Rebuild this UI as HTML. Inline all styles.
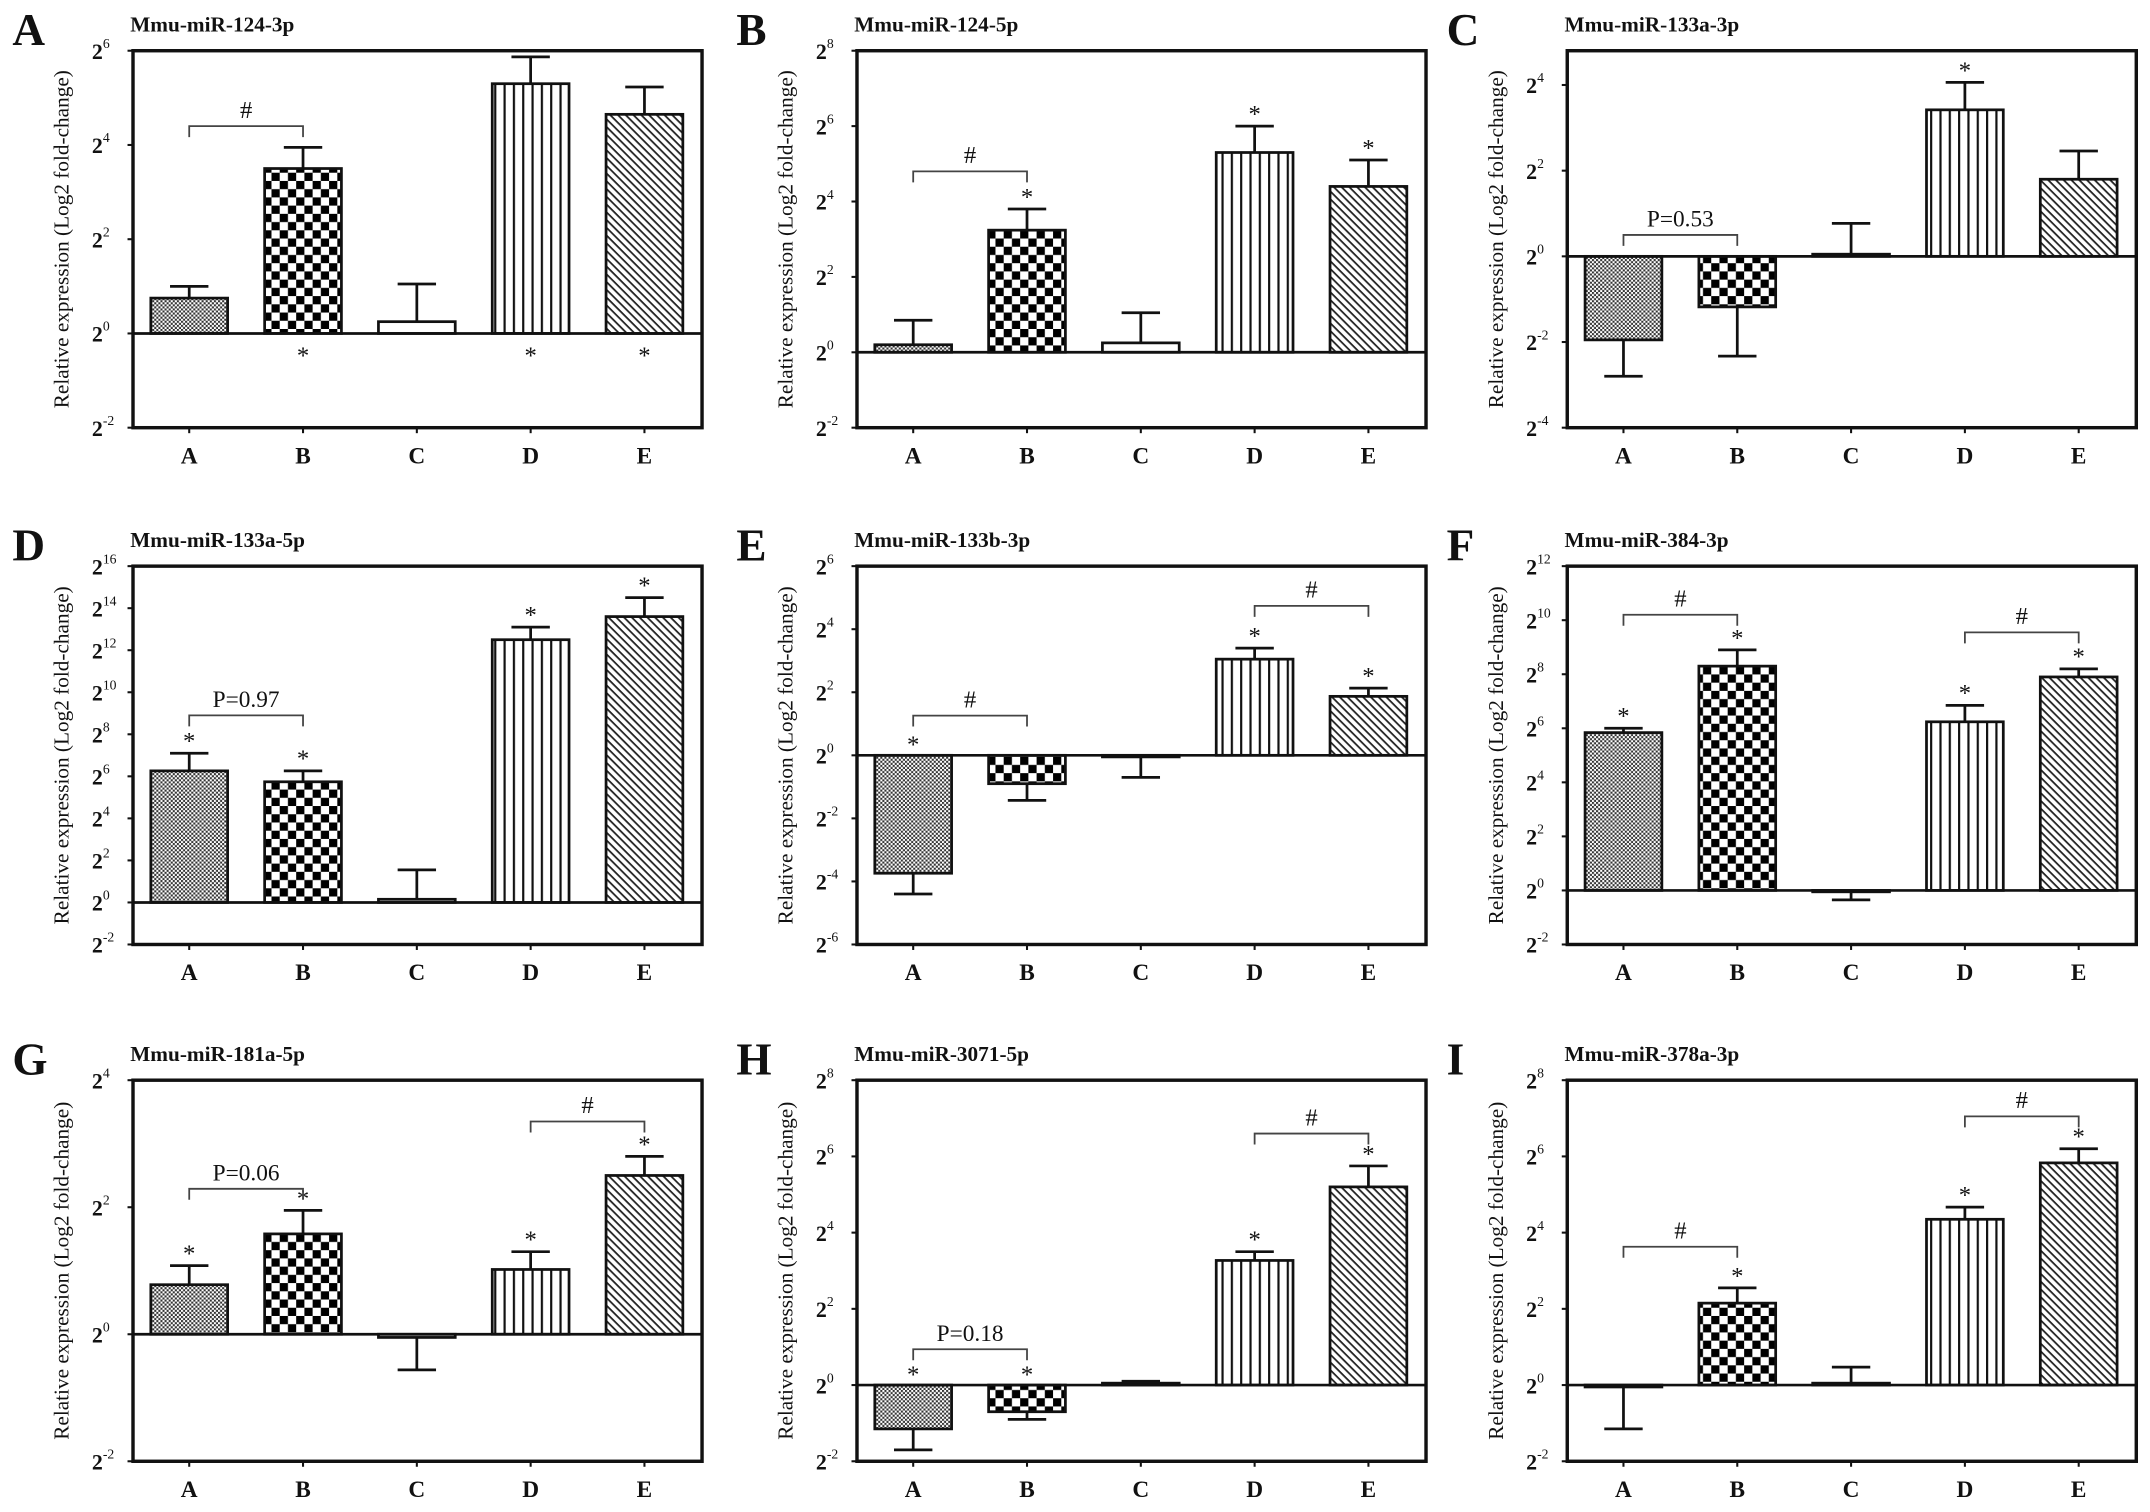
<!DOCTYPE html>
<html><head><meta charset="utf-8"><style>
html,body{margin:0;padding:0;background:#fff;}
svg{display:block;}
text{font-family:"Liberation Serif",serif;fill:#111;}
</style></head><body>
<svg id="fig" width="2150" height="1512" viewBox="0 0 1568 1103" preserveAspectRatio="none" xmlns="http://www.w3.org/2000/svg">
<defs>
<pattern id="patA" patternUnits="userSpaceOnUse" width="3" height="3"><rect width="3" height="3" fill="#fff"/><rect width="1.5" height="1.5" fill="#333"/><rect x="1.5" y="1.5" width="1.5" height="1.5" fill="#333"/></pattern>
<pattern id="patB" patternUnits="userSpaceOnUse" width="12" height="12"><rect width="12" height="12" fill="#fff"/><rect width="6" height="6" fill="#000"/><rect x="6" y="6" width="6" height="6" fill="#000"/></pattern>
<pattern id="patD" patternUnits="userSpaceOnUse" width="6.8" height="10"><rect width="6.8" height="10" fill="#fff"/><rect x="0" width="1.6" height="10" fill="#111"/></pattern>
<pattern id="patE" patternUnits="userSpaceOnUse" width="4" height="4" patternTransform="rotate(45)"><rect width="4" height="4" fill="#fff"/><rect width="4" height="1.3" fill="#222"/></pattern>
</defs>
</svg>
<script>
const groups = ["A","B","C","D","E"];
const titles = ["Mmu-miR-124-3p","Mmu-miR-124-5p","Mmu-miR-133a-3p","Mmu-miR-133a-5p","Mmu-miR-133b-3p","Mmu-miR-384-3p","Mmu-miR-181a-5p","Mmu-miR-3071-5p","Mmu-miR-378a-3p"];
const panelLetters = ["A","B","C","D","E","F","G","H","I"];
const domainMin = [-2,-2,-4,-2,-6,-2,-2,-2,-2];
const domainMax = [6,8,4.8,16,6,12,4,8,8];
const valsA = [0.75,3.5,0.25,5.3,4.65];
const errsA = [1.0,3.95,1.05,5.87,5.23];
const valsB = [0.2,3.24,0.25,5.3,4.4];
const errsB = [0.85,3.8,1.05,6.0,5.1];
const valsC = [-1.95,-1.18,0.05,3.42,1.8];
const errsC = [-2.8,-2.33,0.77,4.06,2.46];
const valsD = [6.26,5.74,0.15,12.5,13.6];
const errsD = [7.1,6.26,1.55,13.1,14.5];
const valsE = [-3.74,-0.9,-0.05,3.05,1.87];
const errsE = [-4.4,-1.43,-0.7,3.4,2.13];
const valsF = [5.84,8.3,-0.05,6.24,7.9];
const errsF = [6.0,8.9,-0.35,6.85,8.2];
const valsG = [0.78,1.58,-0.05,1.02,2.5];
const errsG = [1.08,1.95,-0.56,1.3,2.8];
const valsH = [-1.15,-0.7,0.05,3.27,5.2];
const errsH = [-1.7,-0.9,0.1,3.5,5.75];
const valsI = [-0.05,2.15,0.05,4.35,5.83];
const errsI = [-1.15,2.55,0.47,4.67,6.2];
const allVals = [valsA,valsB,valsC,valsD,valsE,valsF,valsG,valsH,valsI];
const allErrs = [errsA,errsB,errsC,errsD,errsE,errsF,errsG,errsH,errsI];
const starFlags = [[0,1,0,1,1],[0,1,0,1,1],[0,0,0,1,0],[1,1,0,1,1],[1,0,0,1,1],[1,1,0,1,1],[1,1,0,1,1],[1,1,0,1,1],[0,1,0,1,1]];
const bracketsPerPanel = [
 [[0,1,4.4,"#"]],
 [[0,1,4.8,"#"]],
 [[0,1,0.5,"P=0.53"]],
 [[0,1,8.9,"P=0.97"]],
 [[0,1,1.26,"#"],[3,4,4.74,"#"]],
 [[0,1,10.2,"#"],[3,4,9.55,"#"]],
 [[0,1,2.29,"P=0.06"],[3,4,3.35,"#"]],
 [[0,1,0.94,"P=0.18"],[3,4,6.6,"#"]],
 [[0,1,3.63,"#"],[3,4,7.05,"#"]]
];
const fills = ["url(#patA)","url(#patB)","#fff","url(#patD)","url(#patE)"];
const colX = [97,625,1143];
const rowY = [[37,312],[413,689],[788,1066]];
const NS = "http://www.w3.org/2000/svg";
const svg = document.getElementById('fig');
function mk(tag, attrs, parent){const e=document.createElementNS(NS,tag);for(const k in attrs)e.setAttribute(k,attrs[k]);(parent||svg).appendChild(e);return e;}

for(let p=0;p<9;p++){
  const x0=colX[p%3], x1=x0+415, y0=rowY[Math.floor(p/3)][0], y1=rowY[Math.floor(p/3)][1];
  const lo=domainMin[p], hi=domainMax[p];
  const ys=v=>y1-(v-lo)/(hi-lo)*(y1-y0);
  const xs=i=>x0+41+i*83;
  const g=mk('g',{});
  
  
  const letter=mk('text',{x:x0-88,y:y0-4,'font-size':33,'font-weight':'bold'},g);
  letter.textContent=panelLetters[p];
  
  
  const t=mk('text',{x:x0-2,y:y0-14,'font-size':15.5,'font-weight':'bold'},g);
  t.textContent=titles[p];
  
  
  const yt=mk('text',{transform:`translate(${x0-47},${(y0+y1)/2}) rotate(-90)`,'text-anchor':'middle','font-size':15.5},g);
  yt.textContent='Relative expression (Log2 fold-change)';
  
  
  for(let v=Math.ceil(lo/2)*2; v<=hi+0.001; v+=2){
    const y=ys(v);
    mk('line',{x1:x0-4,x2:x0,y1:y,y2:y,stroke:'#111','stroke-width':1.5},g);
    const tl=mk('text',{x:x0-30,y:y+6,'font-size':16,'font-weight':'bold'},g);
    
    
    const b=document.createElementNS(NS,'tspan');b.textContent='2';tl.appendChild(b);
    const s=document.createElementNS(NS,'tspan');s.setAttribute('dy','-8');s.setAttribute('font-size','10');s.setAttribute('font-weight','normal');s.textContent=String(v);tl.appendChild(s);
  }
  const zero=ys(0);
  groups.forEach((gname,i)=>{
    const v=allVals[p][i], e=allErrs[p][i], cx=xs(i);
    const top=Math.min(ys(v),zero), h=Math.abs(ys(v)-zero);
    mk('line',{x1:cx,x2:cx,y1:ys(v),y2:ys(e),stroke:'#111','stroke-width':2},g);
    const cap=mk('line',{x1:cx-14,x2:cx+14,y1:ys(e),y2:ys(e),stroke:'#111','stroke-width':2},g);
    
    
    const r=mk('rect',{x:cx-28,y:top,width:56,height:Math.max(h,1),fill:fills[i],stroke:'#111','stroke-width':2},g);
    
    
    const xl=mk('text',{x:cx,y:y1+26,'text-anchor':'middle','font-size':17,'font-weight':'bold'},g);
    xl.textContent=gname;
    
    
    mk('line',{x1:cx,x2:cx,y1:y1,y2:y1+4,stroke:'#111','stroke-width':1.5},g);
    if(starFlags[p][i]){
      let sy;
      if(p===0) sy=zero+22;
      else if(v<0) sy=zero-2;
      else sy=ys(Math.max(e,v))-3;
      const st=mk('text',{x:cx,y:sy,'text-anchor':'middle','font-size':18},g);
      st.textContent='*';
      
      
    }
  });
  mk('line',{x1:x0,x2:x1,y1:zero,y2:zero,stroke:'#111','stroke-width':2},g);
  const box=mk('rect',{x:x0,y:y0,width:x1-x0,height:y1-y0,fill:'none',stroke:'#111','stroke-width':2.5},g);
  
  
  bracketsPerPanel[p].forEach(br=>{
    const [i,j,lvl,lab]=br, y=ys(lvl);
    const pl=mk('polyline',{points:`${xs(i)},${y+8} ${xs(i)},${y} ${xs(j)},${y} ${xs(j)},${y+8}`,fill:'none',stroke:'#444','stroke-width':1.3},g);
    
    
    const bl=mk('text',{x:(xs(i)+xs(j))/2,y:y-6,'text-anchor':'middle','font-size':lab==='#'?18:17},g);
    bl.textContent=lab;
    
    
  });
}
</script>
</body></html>
